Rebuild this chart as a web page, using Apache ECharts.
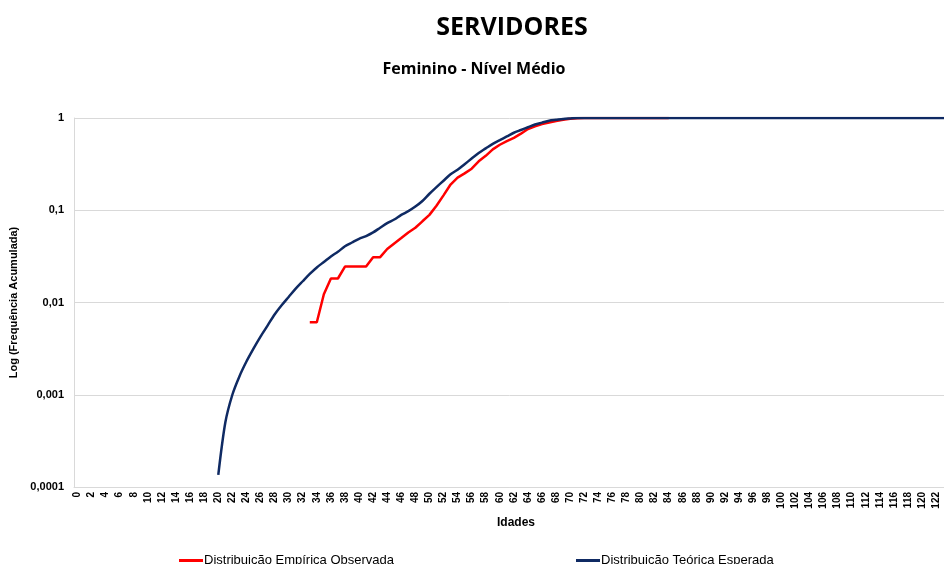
<!DOCTYPE html>
<html>
<head>
<meta charset="utf-8">
<title>Servidores - Feminino - Nível Médio</title>
<script src="https://cdn.jsdelivr.net/npm/echarts@6/dist/echarts.min.js"></script>
<style>
  html, body { margin: 0; padding: 0; background: #fff; }
  #chart { width: 944px; height: 564px; }
</style>
</head>
<body>
<div id="chart"></div>
<script>
// idades 0..130 (eixo de categorias)
const ages = []
for (let a = 0; a <= 130; a++) ages.push(String(a))

const yTicks = ['0,0001', '0,001', '0,01', '0,1', '1']

// Distribuição Teórica Esperada, de 20 anos em diante
const theoStart = 20
const theoretical = [
  0.000135, 0.0005, 0.001, 0.00158, 0.00229, 0.00316, 0.00427, 0.00562, 0.00741, 0.00933,
  0.01148, 0.01413, 0.0170, 0.0204, 0.0240, 0.0275, 0.0316, 0.0355, 0.0407, 0.0447,
  0.0490, 0.0525, 0.0575, 0.0646, 0.0724, 0.0794, 0.0891, 0.0977, 0.1096, 0.126,
  0.151, 0.178, 0.209, 0.245, 0.275, 0.316, 0.363, 0.417, 0.468, 0.525,
  0.575, 0.631, 0.692, 0.741, 0.794, 0.851, 0.891, 0.933, 0.955, 0.977,
  0.989, 1, 1, 1, 1, 1, 1, 1, 1, 1,
  1, 1, 1, 1, 1, 1, 1, 1, 1, 1,
  1, 1, 1, 1, 1, 1, 1, 1, 1, 1,
  1, 1, 1, 1, 1, 1, 1, 1, 1, 1,
  1, 1, 1, 1, 1, 1, 1, 1, 1, 1,
  1, 1, 1, 1, 1, 1, 1, 1, 1, 1,
  1
]

// Distribuição Empírica Observada, de 33 anos em diante
const empStart = 33
const empirical = [
  0.0061, 0.0061, 0.0123, 0.0182, 0.0182, 0.0245, 0.0245, 0.0245, 0.0245, 0.0310,
  0.0310, 0.038, 0.0437, 0.050, 0.0575, 0.0646, 0.0759, 0.0891, 0.112, 0.145,
  0.19, 0.226, 0.251, 0.282, 0.339, 0.389, 0.457, 0.513, 0.562, 0.61,
  0.676, 0.759, 0.813, 0.861, 0.895, 0.927, 0.955, 0.984, 0.995, 1,
  1, 1, 1, 1, 1, 1, 1, 1, 1, 1,
  1, 1
]

const pad = (start, vals) => ages.map((_, i) => (i >= start && i - start < vals.length) ? vals[i - start] : null)

const axisFont = { fontFamily: 'Liberation Sans, Arial, sans-serif', fontWeight: 'bold', color: '#000' }

const chart = echarts.init(document.getElementById('chart'), null, { renderer: 'canvas' })
chart.setOption({
  animation: false,
  backgroundColor: '#fff',
  title: [
    {
      text: 'SERVIDORES', left: 507, top: 10, textAlign: 'center',
      textStyle: { fontFamily: 'Open Sans, sans-serif', fontWeight: 'bold', fontSize: 25, color: '#000' }
    },
    {
      text: 'Feminino - Nível Médio', left: 469, top: 56, textAlign: 'center',
      textStyle: { fontFamily: 'Open Sans, sans-serif', fontWeight: 'bold', fontSize: 16, color: '#000' }
    }
  ],
  legend: {
    left: 179, top: 554, padding: 0, itemGap: 182, itemWidth: 24, itemHeight: 3,
    icon: 'rect',
    textStyle: { fontFamily: 'Liberation Sans Narrow, Arial Narrow, sans-serif', fontSize: 13, color: '#000', padding: [0, 0, 0, -4] },
    data: ['Distribuição Empírica Observada', 'Distribuição Teórica Esperada']
  },
  grid: { left: 74, top: 118, width: 922, height: 369, outerBoundsMode: 'none', containLabel: false },
  xAxis: {
    type: 'category',
    data: ages,
    boundaryGap: true,
    name: 'Idades',
    nameLocation: 'middle',
    nameGap: 30,
    nameTextStyle: Object.assign({ fontSize: 12, padding: [0, 38, 0, 0] }, axisFont),
    axisLine: { lineStyle: { color: '#d9d9d9' } },
    axisTick: { show: false },
    axisLabel: Object.assign({ rotate: 90, interval: 1, fontSize: 10, margin: 5 }, axisFont),
    splitLine: { show: false }
  },
  yAxis: {
    type: 'log',
    logBase: 10,
    min: 0.0001,
    max: 1,
    name: 'Log (Frequência Acumulada)',
    nameLocation: 'middle',
    nameGap: 47,
    nameTextStyle: Object.assign({ fontSize: 11 }, axisFont),
    axisLine: { show: true, lineStyle: { color: '#d9d9d9' } },
    axisTick: { show: false },
    axisLabel: Object.assign({
      fontSize: 11, margin: 10,
      formatter: v => yTicks[Math.round(Math.log10(v)) + 4]
    }, axisFont),
    splitLine: { lineStyle: { color: '#d9d9d9', width: 1 } }
  },
  series: [
    {
      name: 'Distribuição Empírica Observada',
      type: 'line',
      data: pad(empStart, empirical),
      symbol: 'none',
      connectNulls: false,
      lineStyle: { color: '#ff0000', width: 2.5 },
      itemStyle: { color: '#ff0000' },
      z: 2
    },
    {
      name: 'Distribuição Teórica Esperada',
      type: 'line',
      data: pad(theoStart, theoretical),
      symbol: 'none',
      smooth: 0.3,
      connectNulls: false,
      lineStyle: { color: '#0f2a63', width: 2.5 },
      itemStyle: { color: '#0f2a63' },
      z: 3
    }
  ]
})
</script>
</body>
</html>
